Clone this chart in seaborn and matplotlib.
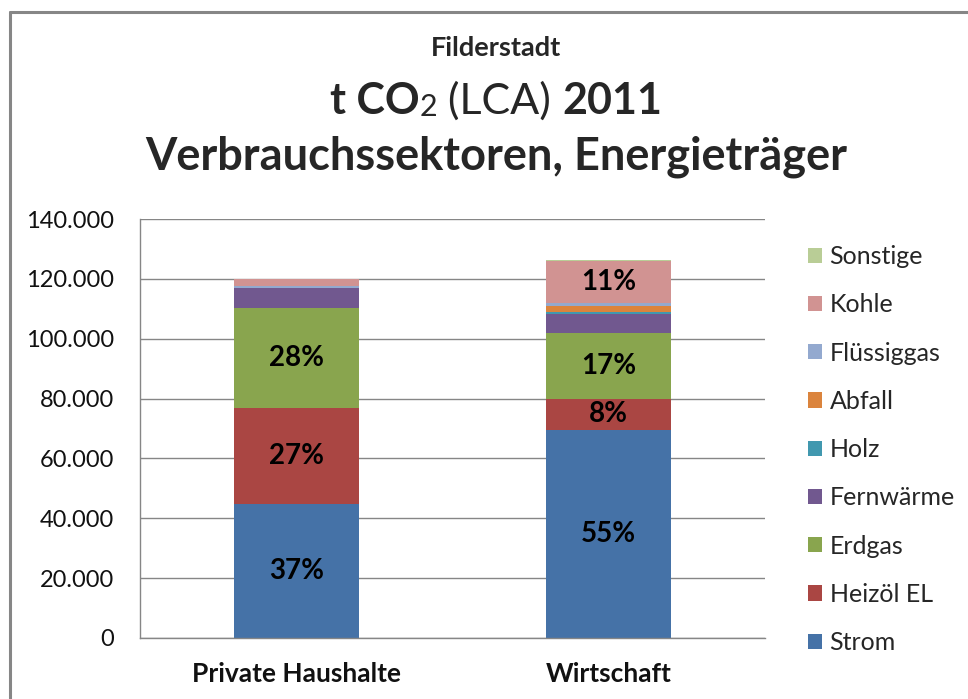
import numpy as np
import pandas as pd
import matplotlib
matplotlib.use("Agg")
import matplotlib.pyplot as plt
from matplotlib.lines import Line2D
from matplotlib.ticker import FuncFormatter
import seaborn as sns

# ========================
# DATA (t CO2)
# ========================
SECTORS = ["Private Haushalte", "Wirtschaft"]
CARRIERS = ["Strom", "Heizöl EL", "Erdgas", "Fernwärme", "Holz",
            "Abfall", "Flüssiggas", "Kohle", "Sonstige"]
PRIVATE = [44800, 32000, 33500, 6500, 100, 0, 700, 2200, 200]
WIRTSCHAFT = [69500, 10500, 22000, 6300, 700, 1900, 900, 14200, 300]
COLORS = ["#4572A7", "#AA4643", "#89A54E", "#71588F", "#4198AF",
          "#DB843D", "#93A9CF", "#D19392", "#B9CD96"]
Y_TICKS = [0, 20000, 40000, 60000, 80000, 100000, 120000, 140000]
LABEL_MIN_SHARE = 0.08

GRAY = "#868686"
W, H = 968, 699

sns.set_style("white")
plt.rcParams["font.family"] = ["Lato", "DejaVu Sans"]

df = pd.DataFrame({
    "sector": np.repeat(SECTORS, len(CARRIERS)),
    "carrier": CARRIERS * len(SECTORS),
    "value": PRIVATE + WIRTSCHAFT,
})

fig = plt.figure(figsize=(W / 100, H / 100), dpi=100)
ax = fig.add_axes([140 / W, 1 - 638 / H, (765 - 140) / W, (638 - 219) / H])

sns.histplot(
    data=df, x="sector", hue="carrier", weights="value",
    multiple="stack", discrete=True, shrink=0.4,
    hue_order=CARRIERS[::-1], palette=dict(zip(CARRIERS, COLORS)),
    alpha=1, linewidth=0, ax=ax,
)

# ========================
# AXES
# ========================
ax.set_xlim(-0.5, 1.5)
ax.set_ylim(Y_TICKS[0], Y_TICKS[-1])
ax.set_yticks(Y_TICKS)
ax.yaxis.set_major_formatter(FuncFormatter(lambda v, _: f"{int(v):,}".replace(",", ".")))
ax.set_xticks(range(len(SECTORS)), SECTORS)
ax.set_xticks([-0.5, 0.5, 1.5], minor=True)
ax.set_xlabel("")
ax.set_ylabel("")

ax.yaxis.grid(True, color=GRAY, lw=1)
ax.set_axisbelow(True)
for s in ["top", "right"]:
    ax.spines[s].set_visible(False)
for s in ["left", "bottom"]:
    ax.spines[s].set_color(GRAY)
    ax.spines[s].set_linewidth(1)

ax.tick_params(axis="y", length=6.5, color=GRAY, width=1, pad=12, labelsize=17, labelcolor="#111111")
ax.tick_params(axis="x", which="major", length=0, pad=17, labelsize=19, labelcolor="#111111")
ax.tick_params(axis="x", which="minor", length=7, color=GRAY, width=1)
for t in ax.get_xticklabels():
    t.set_fontweight("bold")

# percentage labels inside the larger segments
for i, vals in enumerate([PRIVATE, WIRTSCHAFT]):
    total = sum(vals)
    base = 0
    for v in vals:
        if v / total >= LABEL_MIN_SHARE:
            ax.text(i, base + v / 2, f"{v / total:.0%}", ha="center", va="center",
                    fontsize=20, fontweight="bold", color="black")
        base += v

# ========================
# LEGEND
# ========================
sns.move_legend(
    ax, "upper left", bbox_to_anchor=(808 / W, 1 - 245 / H),
    bbox_transform=fig.transFigure, title=None, frameon=False,
    fontsize=18, handlelength=0.56, handleheight=0.56, handletextpad=0.3,
    labelspacing=1.01, borderpad=0, borderaxespad=0,
)

# ========================
# TITLE (mixed weights)
# ========================
fig.text(496 / W, 1 - 48 / H, "Filderstadt", ha="center", va="center",
         fontsize=19.5, fontweight="bold")
fig.text(496 / W, 1 - 157 / H, "Verbrauchssektoren, Energieträger", ha="center",
         va="center", fontsize=32.5, fontweight="bold")

renderer = fig.canvas.get_renderer()
y2 = 1 - 114 / H
pieces = [("t CO", "bold", 31, 0), ("2", "normal", 22, -2 / H),
          (" (LCA) ", "normal", 31, 0), ("2011", "bold", 31, 0)]
texts = []
for s, w, size, dy in pieces:
    t = fig.text(0, y2 + dy, s, ha="left", va="baseline", fontsize=size, fontweight=w)
    texts.append(t)
widths = [t.get_window_extent(renderer).width for t in texts]
x = 496 - sum(widths) / 2
for t, wd in zip(texts, widths):
    t.set_x(x / W)
    x += wd

# outer frame of the chart
fig.add_artist(Line2D([9.5 / W, 9.5 / W], [0, 1 - 11.5 / H], transform=fig.transFigure,
                      color=GRAY, lw=2.2))
fig.add_artist(Line2D([9.5 / W, 1], [1 - 11.5 / H, 1 - 11.5 / H], transform=fig.transFigure,
                      color=GRAY, lw=2.2))

fig.savefig("out.png", dpi=100)
